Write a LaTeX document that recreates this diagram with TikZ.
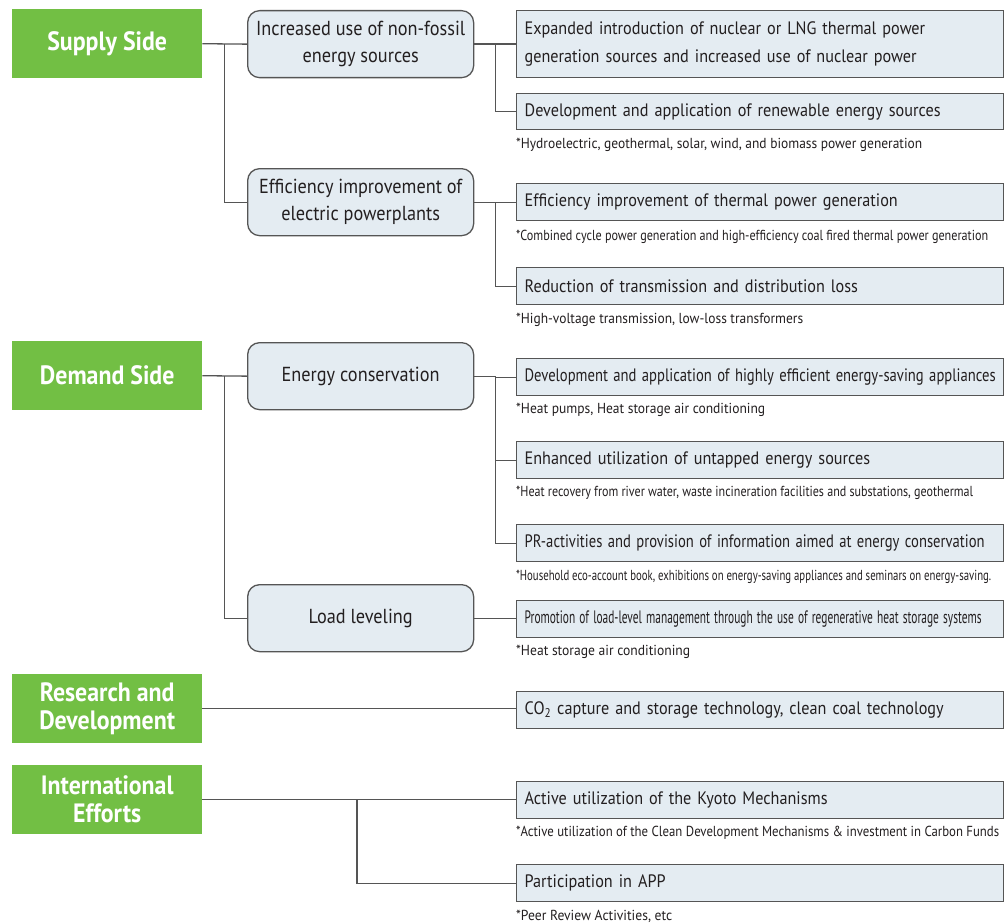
\documentclass[tikz,border=0pt]{standalone}
\usepackage{fontspec}
\usepackage{graphicx}
\setmainfont[FakeStretch=0.9]{PT Sans}
\usetikzlibrary{calc}
\definecolor{catgreen}{HTML}{72BF44}
\definecolor{boxfill}{HTML}{E4ECF2}
\definecolor{linegray}{HTML}{555555}
\definecolor{textgray}{HTML}{231F20}
\newcommand{\fitw}[2]{\resizebox{#1pt}{\height}{#2}}
\begin{document}
\begin{tikzpicture}[x=1pt,y=-1pt,
 cat/.style={fill=catgreen, text=white, font=\fontsize{26.5}{28}\selectfont\bfseries, minimum width=190pt, minimum height=69pt, inner sep=0pt, align=center, anchor=north west},
 mid/.style={draw=linegray, line width=1.3pt, fill=boxfill, rounded corners=12pt, minimum width=226pt, minimum height=67pt, inner sep=0pt, align=center, text=textgray, font=\fontsize{20.3}{27}\selectfont, anchor=north west},
 item/.style={draw=linegray, line width=1.3pt, fill=boxfill, minimum height=37pt, text width=471pt, inner xsep=8pt, inner ysep=0pt, align=left, text=textgray, font=\fontsize{18}{28}\selectfont, anchor=north west},
 note/.style={anchor=west, inner sep=0pt, text=textgray, font=\fontsize{14.5}{16}\selectfont},
 conn/.style={draw=linegray, line width=1.3pt}]
\path[use as bounding box, fill=white] (0,0) rectangle (1008,923);

\node[cat] (supply) at (12,9) {Supply Side};
\node[cat] (demand) at (12,341) {Demand Side};
\node[cat] (rd) at (12,674) {Research and\\Development};
\node[cat] (intl) at (12,765) {International\\Efforts};

\node[mid] (m1) at (247,10) {Increased use of non-fossil\\energy sources};
\node[mid] (m2) at (247,168) {Efficiency improvement of\\electric powerplants};
\node[mid] (m3) at (247,342) {Energy conservation};
\node[mid] (m4) at (247,584) {Load leveling};

\node[item, minimum height=67pt] (i1) at (516,10) {Expanded introduction of nuclear or LNG thermal power\\generation sources and increased use of nuclear power};
\node[item, minimum height=36pt] (i2) at (516,93) {Development and application of renewable energy sources};
\node[item] (i3) at (516,183) {Efficiency improvement of thermal power generation};
\node[item] (i4) at (516,267) {Reduction of transmission and distribution loss};
\node[item] (i5) at (516,358) {\fitw{471}{Development and application of highly efficient energy-saving appliances}};
\node[item] (i6) at (516,441) {Enhanced utilization of untapped energy sources};
\node[item] (i7) at (516,524) {\fitw{460}{PR-activities and provision of information aimed at energy conservation}};
\node[item] (i8) at (516,600) {\fitw{457}{Promotion of load-level management through the use of regenerative heat storage systems}};
\node[item] (i9) at (516,691) {CO\textsubscript{2} capture and storage technology, clean coal technology};
\node[item] (i10) at (516,781) {Active utilization of the Kyoto Mechanisms};
\node[item] (i11) at (516,864) {Participation in APP};

\node[note] (n2) at (516,145) {\fitw{406}{*Hydroelectric, geothermal, solar, wind, and biomass power generation}};
\node[note] (n3) at (516,237) {\fitw{472}{*Combined cycle power generation and high-efficiency coal fired thermal power generation}};
\node[note] (n4) at (516,320) {\fitw{287}{*High-voltage transmission, low-loss transformers}};
\node[note] (n5) at (516,410) {\fitw{249}{*Heat pumps, Heat storage air conditioning}};
\node[note] (n6) at (516,493) {\fitw{457}{*Heat recovery from river water, waste incineration facilities and substations, geothermal}};
\node[note] (n7) at (516,577) {\fitw{475}{*Household eco-account book, exhibitions on energy-saving appliances and seminars on energy-saving.}};
\node[note] (n8) at (516,652) {\fitw{174}{*Heat storage air conditioning}};
\node[note] (n10) at (516,833) {\fitw{483}{*Active utilization of the Clean Development Mechanisms \& investment in Carbon Funds}};
\node[note] (n11) at (516,916) {\fitw{156}{*Peer Review Activities, etc}};

% connectors
\coordinate (s1) at ($(supply.east)!0.5!(m1.west)$);
\draw[conn] (supply.east) -- (m1.west);
\draw[conn] (s1) |- (m2.west);
\coordinate (j1) at ($(m1.east)!0.5!(i1.west)$);
\draw[conn] (m1.east) -- (i1.west);
\draw[conn] (j1) |- (i2.west);
\coordinate (j2) at ($(m2.east)!0.5!(i3.west)$);
\draw[conn] (m2.east) -- (i3.west);
\draw[conn] (j2) |- (i4.west);

\coordinate (s2) at ($(demand.east)!0.5!(m3.west)$);
\draw[conn] (demand.east) -- (m3.west);
\draw[conn] (s2) |- (m4.west);
\coordinate (j3) at ($(m3.east)!0.5!(m3.east -| i5.west)$);
\draw[conn] (m3.east) -- (j3) |- (i5.west);
\draw[conn] (j3) |- (i6.west);
\draw[conn] (j3) |- (i7.west);
\draw[conn] (m4.east) -- (m4.east -| i8.west);

\draw[conn] (rd.east) -- (rd.east -| i9.west);

\coordinate (j5) at (357,799.5);
\draw[conn] (intl.east) -- (intl.east -| i10.west);
\draw[conn] (j5) |- (i11.west);
\end{tikzpicture}
\end{document}
